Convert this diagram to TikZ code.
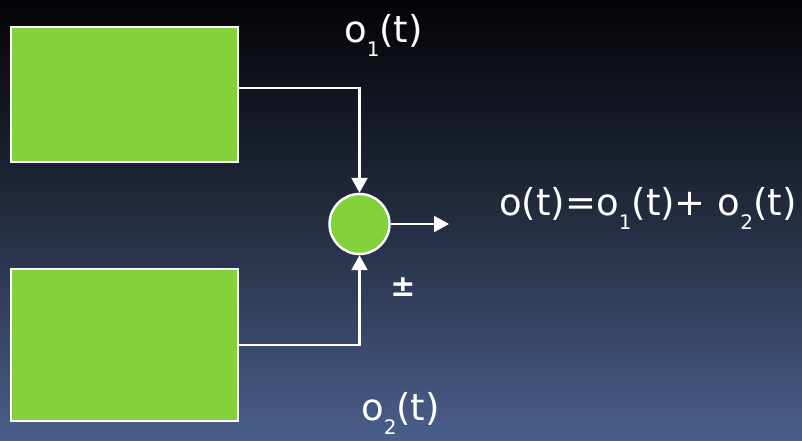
\documentclass[tikz,border=0pt]{standalone}
\usepackage{fontspec}
\setmainfont{DejaVu Sans}
\usetikzlibrary{arrows.meta}
\definecolor{bgtop}{RGB}{4,4,6}
\definecolor{bgmid}{RGB}{36,44,64}
\definecolor{bgbot}{RGB}{74,95,140}
\definecolor{boxgreen}{RGB}{130,209,61}
\newcommand{\sbs}[1]{\raisebox{-14pt}{\fontsize{20}{20}\selectfont #1}}
\tikzset{
  block/.style={draw=white, line width=2.4pt, fill=boxgreen, minimum width=227pt, inner sep=0pt},
  sumnode/.style={draw=white, line width=2.4pt, fill=boxgreen, circle, minimum size=60pt, inner sep=0pt},
  arr/.style={draw=white, line width=2.2pt, -{Triangle[length=15pt,width=16pt]}},
  lbl/.style={text=white, font=\fontsize{37}{40}\selectfont, inner sep=0pt},
  pmlbl/.style={text=white, font=\fontsize{30}{34}\selectfont\bfseries, inner sep=0pt}
}
\begin{document}
\begin{tikzpicture}[x=1pt,y=-1pt]
\useasboundingbox (0,0) rectangle (802,441);
\shade[top color=bgtop, bottom color=bgbot, middle color=bgmid, shading angle=0] (0,0) rectangle (802,441);
\node[block, minimum height=135pt] (r1) at (124.5,94.5) {};
\node[block, minimum height=152pt] (r2) at (124.5,345) {};
\node[sumnode] (c) at (359.5,224) {};
\coordinate (y1) at (0,88);
\coordinate (out) at (449,224);
\draw[arr] (r1.east |- y1) -| (c.north);
\draw[arr] (r2.east) -| (c.south);
\draw[arr] (c.east) -- (out);
\node[lbl, anchor=base west] (l1) at (344,43) {o\sbs{1}(t)};
\node[lbl, anchor=base west] (l2) at (361,420) {o\sbs{2}(t)};
\node[pmlbl] (pm) at (403,287) {±};
\node[lbl, anchor=base west] (eq) at (499,215) {o(t)=o\sbs{1}(t)+ o\sbs{2}(t)};
\end{tikzpicture}
\end{document}
